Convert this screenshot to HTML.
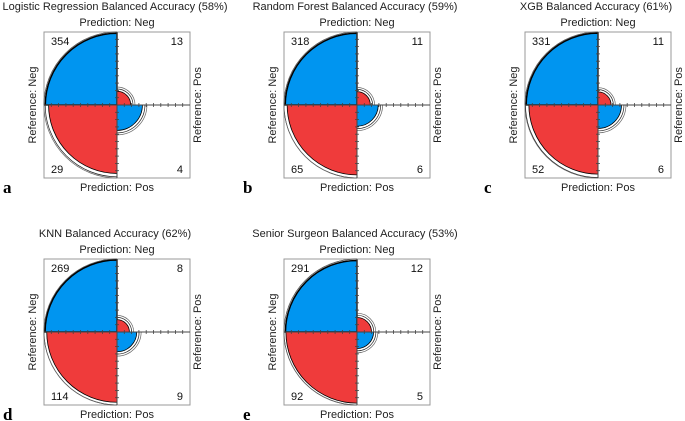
<!DOCTYPE html>
<html><head><meta charset="utf-8"><style>
html,body{margin:0;padding:0;background:#fff}
svg{display:block;font-family:"Liberation Sans",Arial,sans-serif}
</style></head><body>
<svg id="chart" width="685" height="421" viewBox="0 0 685 421"></svg>
<script>
const titles = ["Logistic Regression Balanced Accuracy (58%)","Random Forest Balanced Accuracy (59%)","XGB Balanced Accuracy (61%)","KNN Balanced Accuracy (62%)","Senior Surgeon Balanced Accuracy (53%)"];
const letters = ["a","b","c","d","e"];
// counts: [top-left, top-right, bottom-left, bottom-right]
const tlCounts = [354,318,331,269,291];
const trCounts = [13,11,11,8,12];
const blCounts = [29,65,52,114,92];
const brCounts = [4,6,6,9,5];

const NS="http://www.w3.org/2000/svg";
const svg=document.getElementById('chart');
function mk(tag,attrs,parent){const e=document.createElementNS(NS,tag);for(const k in attrs)e.setAttribute(k,attrs[k]);(parent||svg).appendChild(e);return e;}
const R=73;
const centers=[[117,105],[357,105],[598,105],[117,332],[357,332]];
function arcPath(cx,cy,r,q,fill){
  const sx=(q===1||q===3)?1:-1, sy=(q===2||q===3)?1:-1;
  const x1=cx+sx*r, y1=cy, x2=cx, y2=cy+sy*r;
  const sweep=(sx*sy>0)?1:0;
  return (fill?`M${cx},${cy} L${x1},${y1} `:`M${x1},${y1} `)+`A${r},${r} 0 0 ${sweep} ${x2},${y2}`+(fill?' Z':'');
}
titles.forEach((t,i)=>{
  const [cx,cy]=centers[i];
  const g=mk('g',{});
  
  
  const tt=mk('text',{x:cx-2,y:cy-95,'text-anchor':'middle','font-size':'11',fill:'#222'},g);tt.textContent=t;
  
  
  const pn=mk('text',{x:cx,y:cy-79,'text-anchor':'middle','font-size':'11',fill:'#222'},g);pn.textContent='Prediction: Neg';
  
  
  const pp=mk('text',{x:cx,y:cy+86,'text-anchor':'middle','font-size':'11',fill:'#222'},g);pp.textContent='Prediction: Pos';
  
  
  const rn=mk('text',{x:0,y:0,'text-anchor':'middle','font-size':'11',fill:'#222',transform:`translate(${cx-R-8},${cy}) rotate(-90)`},g);rn.textContent='Reference: Neg';
  
  
  const rp=mk('text',{x:0,y:0,'text-anchor':'middle','font-size':'11',fill:'#222',transform:`translate(${cx+R+11},${cy}) rotate(-90)`},g);rp.textContent='Reference: Pos';
  
  
  const lt=mk('text',{x:cx-R-41,y:cy+88,'font-size':'17','font-weight':'bold','font-family':'"Liberation Serif",serif',fill:'#000'},g);lt.textContent=letters[i];
  
  
  const box=mk('rect',{x:cx-R,y:cy-R,width:2*R,height:2*R,fill:'none',stroke:'#999','stroke-width':1},g);
  
  
  const vals=[tlCounts[i],trCounts[i],blCounts[i],brCounts[i]];
  const r1=vals[0]+vals[1], r2=vals[2]+vals[3];
  const props=[vals[0]/r1,vals[1]/r1,vals[2]/r2,vals[3]/r2];
  const colors=['#0095f0','#ef3b3b','#ef3b3b','#0095f0'];
  props.forEach((p,q)=>{
    const r=R*Math.sqrt(p);
    [2,4].forEach(off=>{
      const rr=Math.min(r+off+r*0.02, R);
      if(rr>r+0.8){
        const c=mk('path',{d:arcPath(cx,cy,rr,q,false),fill:'none',stroke:off===2?'#222':'#666','stroke-width':0.7},g);
        
        
      }
    });
    const s=mk('path',{d:arcPath(cx,cy,r,q,true),fill:colors[q],stroke:'#000','stroke-width':q===0?1.5:0.8},g);
    
    
  });
  mk('line',{x1:cx-R,y1:cy,x2:cx+R,y2:cy,stroke:'#444','stroke-width':1},g);
  mk('line',{x1:cx,y1:cy-R,x2:cx,y2:cy+R,stroke:'#444','stroke-width':1},g);
  for(let k=1;k<10;k++){
    const d=R*k/10;
    [-1,1].forEach(sg=>{
      mk('line',{x1:cx+sg*d,y1:cy-2,x2:cx+sg*d,y2:cy+2,stroke:'#444','stroke-width':0.8},g);
      mk('line',{x1:cx-2,y1:cy+sg*d,x2:cx+2,y2:cy+sg*d,stroke:'#444','stroke-width':0.8},g);
    });
  }
  const pos=[[cx-R+7,cy-R+13,'start'],[cx+R-7,cy-R+13,'end'],[cx-R+7,cy+R-5,'start'],[cx+R-7,cy+R-5,'end']];
  vals.forEach((v,q)=>{
    const n=mk('text',{x:pos[q][0],y:pos[q][1],'text-anchor':pos[q][2],'font-size':'11',fill:'#111'},g);n.textContent=v;
    
    
  });
});
</script>
</body></html>
